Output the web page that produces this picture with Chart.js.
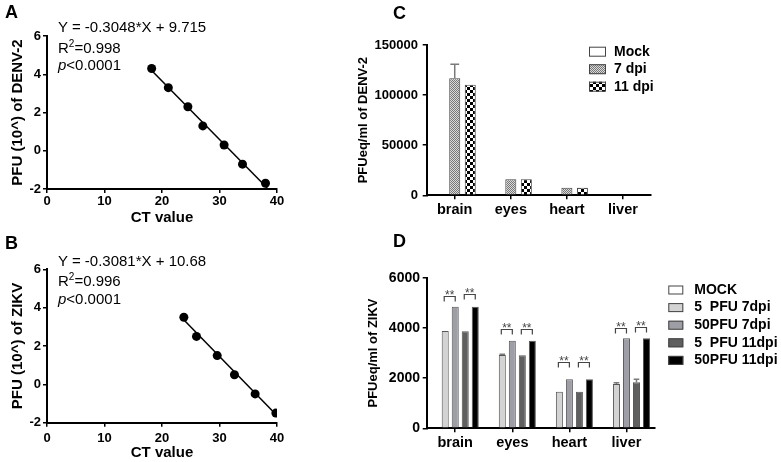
<!DOCTYPE html>
<html>
<head>
<meta charset="utf-8">
<script src="https://cdn.jsdelivr.net/npm/chart.js@4.4.1/dist/chart.umd.min.js"></script>
<style>
  body { margin: 0; background: #fff; }
  #fig { position: relative; width: 781px; height: 462px; overflow: hidden; font-family: "Liberation Sans", Arial, sans-serif; color: #000; }
  canvas { position: absolute; }
  .tag { position: absolute; font-size: 18px; line-height: 18px; font-weight: bold; }
  .eq { position: absolute; left: 58px; font-size: 15px; line-height: 18px; white-space: nowrap; }
  .sup { font-size: 10px; position: relative; top: -6px; }
</style>
</head>
<body>
<div id="fig">
  <canvas id="chartA" width="300" height="228" style="left:0;top:0"></canvas>
  <canvas id="chartB" width="300" height="232" style="left:0;top:230px"></canvas>
  <canvas id="chartC" width="431" height="230" style="left:350px;top:0"></canvas>
  <canvas id="chartD" width="431" height="232" style="left:350px;top:230px"></canvas>

  <div class="tag" style="left:5px;top:3px">A</div>
  <div class="tag" style="left:5px;top:234px">B</div>
  <div class="tag" style="left:393px;top:4px">C</div>
  <div class="tag" style="left:393px;top:232px">D</div>

  <div class="eq" style="top:18px">Y = -0.3048*X + 9.715</div>
  <div class="eq" style="top:39px">R<span class="sup">2</span>=0.998</div>
  <div class="eq" style="top:56px"><i>p</i>&lt;0.0001</div>

  <div class="eq" style="top:252px">Y = -0.3081*X + 10.68</div>
  <div class="eq" style="top:272px">R<span class="sup">2</span>=0.996</div>
  <div class="eq" style="top:290px"><i>p</i>&lt;0.0001</div>
</div>

<script>
// standard curves (CT value vs log PFU)
const ctDenv = [18.2, 21.1, 24.5, 27.1, 30.8, 34.0, 38.0];
const pfuDenv = [4.3, 3.3, 2.3, 1.3, 0.3, -0.7, -1.7];
const fitCtDenv = [18.2, 38.3];
const fitPfuDenv = [4.2, -1.95];

const ctZikv = [23.8, 26.0, 29.6, 32.6, 36.2, 39.8];
const pfuZikv = [3.5, 2.5, 1.5, 0.5, -0.5, -1.5];
const fitCtZikv = [23.7, 39.9];
const fitPfuZikv = [3.4, -1.6];

// organ loads
const organs = ["brain", "eyes", "heart", "liver"];

const denvLabels = ["Mock", "7 dpi", "11 dpi"];
const denvMock = [0, 0, 0, 0];
const denv7dpi = [116800, 16000, 7600, 0];
const denv11dpi = [110300, 16000, 7600, 0];
const denv7dpiErr = [14000, 0, 0, 0];

const zikvLabels = ["MOCK", "5  PFU 7dpi", "50PFU 7dpi", "5  PFU 11dpi", "50PFU 11dpi"];
const zikvMock = [0, 0, 0, 0];
const zikv5pfu7 = [3880, 2920, 1460, 1765];
const zikv50pfu7 = [4845, 3490, 1950, 3585];
const zikv5pfu11 = [3870, 2910, 1460, 1830];
const zikv50pfu11 = [4845, 3490, 1950, 3585];
const zikv5pfu7Err = [0, 30, 0, 50];
const zikv5pfu11Err = [0, 0, 0, 120];
// height of the "**" brackets (5 vs 50 PFU at 7 dpi, then at 11 dpi)
const sig7dpi = [5270, 3970, 2650, 3990];
const sig11dpi = [5340, 3940, 2650, 4050];

Chart.defaults.font.family = '"Liberation Sans", Arial, sans-serif';
Chart.defaults.color = "#000";

const toPoints = (xs, ys) => xs.map((x, i) => ({ x, y: ys[i] }));

function pattern(size, draw) {
  const c = document.createElement("canvas");
  c.width = size; c.height = size;
  const g = c.getContext("2d");
  draw(g);
  return g.createPattern(c, "repeat");
}
const dotted = pattern(2, g => {
  g.fillStyle = "#dadada"; g.fillRect(0, 0, 2, 2);
  g.fillStyle = "#777"; g.fillRect(0, 0, 1, 1); g.fillRect(1, 1, 1, 1);
});
const checker = pattern(6, g => {
  g.fillStyle = "#fff"; g.fillRect(0, 0, 6, 6);
  g.fillStyle = "#000"; g.fillRect(0, 0, 3, 3); g.fillRect(3, 3, 3, 3);
});

const errorBars = {
  id: "errorBars",
  afterDatasetsDraw(chart) {
    const { ctx } = chart;
    const y = chart.scales.y;
    chart.data.datasets.forEach((ds, i) => {
      if (!ds.errors) return;
      chart.getDatasetMeta(i).data.forEach((bar, j) => {
        const e = ds.errors[j];
        if (!e) return;
        const top = y.getPixelForValue(ds.data[j] + e);
        const half = bar.width * 0.4;
        ctx.save();
        ctx.strokeStyle = "#7a7a7a";
        ctx.lineWidth = 1.5;
        ctx.beginPath();
        ctx.moveTo(bar.x, bar.y); ctx.lineTo(bar.x, top);
        ctx.moveTo(bar.x - half, top); ctx.lineTo(bar.x + half, top);
        ctx.stroke();
        ctx.restore();
      });
    });
  }
};

const brackets = {
  id: "brackets",
  afterDatasetsDraw(chart, args, opts) {
    if (!opts.sets) return;
    const { ctx } = chart;
    const y = chart.scales.y;
    ctx.save();
    ctx.strokeStyle = "#444";
    ctx.fillStyle = "#444";
    ctx.lineWidth = 1.2;
    ctx.font = '12px "Liberation Sans", Arial, sans-serif';
    ctx.textAlign = "center";
    ctx.textBaseline = "alphabetic";
    opts.sets.forEach(({ a, b, levels }) => {
      const ma = chart.getDatasetMeta(a).data;
      const mb = chart.getDatasetMeta(b).data;
      levels.forEach((lv, j) => {
        const x1 = ma[j].x - 1, x2 = mb[j].x;
        const py = Math.round(y.getPixelForValue(lv)) + 0.5;
        ctx.beginPath();
        ctx.moveTo(x1, py + 5); ctx.lineTo(x1, py); ctx.lineTo(x2, py); ctx.lineTo(x2, py + 5);
        ctx.stroke();
        ctx.fillText("**", (x1 + x2) / 2, py + 2);
      });
    });
    ctx.restore();
  }
};

const boxLegend = {
  id: "boxLegend",
  afterDraw(chart, args, o) {
    if (!o.x) return;
    const { ctx } = chart;
    ctx.save();
    ctx.font = `bold ${o.size}px "Liberation Sans", Arial, sans-serif`;
    ctx.textBaseline = "middle";
    chart.data.datasets.forEach((ds, i) => {
      const cy = o.y + i * o.dy;
      ctx.fillStyle = ds.backgroundColor;
      ctx.fillRect(o.x, cy - o.h / 2, o.w, o.h);
      ctx.strokeStyle = "#444";
      ctx.lineWidth = 1;
      ctx.strokeRect(o.x + 0.5, cy - o.h / 2 + 0.5, o.w - 1, o.h - 1);
      ctx.fillStyle = "#000";
      ctx.fillText(ds.label, o.textX, cy);
    });
    ctx.restore();
  }
};

const axisGrid = { drawOnChartArea: false, tickLength: 4, color: "#000", lineWidth: 1.5 };
const axisBorder = { color: "#000", width: 2 };
const plain = v => String(v);

function curveChart(id, pts, fit, yTitle, g) {
  return new Chart(document.getElementById(id), {
    type: "scatter",
    data: {
      datasets: [
        { data: pts, backgroundColor: "#000", borderWidth: 0, pointRadius: 4.5 },
        { data: fit, showLine: true, borderColor: "#000", borderWidth: 1.5, pointRadius: 0 }
      ]
    },
    options: {
      responsive: false,
      animation: false,
      layout: { padding: { top: g.top, right: g.right, left: 0, bottom: 0 } },
      plugins: { legend: { display: false }, tooltip: { enabled: false } },
      scales: {
        x: {
          type: "linear", min: 0, max: 40,
          afterFit: s => { s.height = g.xh; },
          ticks: { stepSize: 10, padding: g.xpad, font: { size: 13, weight: "bold" } },
          grid: axisGrid, border: axisBorder,
          title: { display: true, text: "CT value", font: { size: 15, weight: "bold" }, padding: { top: 0, bottom: g.tpad } }
        },
        y: {
          min: -2, max: 6,
          afterFit: s => { s.width = 47; },
          ticks: { stepSize: 2, padding: 2, font: { size: 13, weight: "bold" } },
          grid: axisGrid, border: axisBorder,
          title: { display: true, text: yTitle, font: { size: 15, weight: "bold" }, padding: { top: 9, bottom: 0 } }
        }
      }
    }
  });
}

curveChart("chartA", toPoints(ctDenv, pfuDenv), toPoints(fitCtDenv, fitPfuDenv),
  "PFU (10^) of DENV-2", { top: 36, right: 23, xh: 39, xpad: 1, tpad: 1 });
curveChart("chartB", toPoints(ctZikv, pfuZikv), toPoints(fitCtZikv, fitPfuZikv),
  "PFU (10^) of ZIKV", { top: 39.3, right: 23, xh: 39.3, xpad: 3.5, tpad: 0 });

function barScales(g) {
  return {
    x: {
      afterFit: s => { s.height = g.xh; },
      ticks: { padding: g.xpad, font: { size: 14.5, weight: "bold" } },
      grid: { ...axisGrid, offset: false }, border: axisBorder
    },
    y: {
      min: 0, max: g.max,
      afterFit: s => { s.width = 76.7; },
      ticks: { stepSize: g.step, padding: g.ypad, callback: plain, font: { size: g.tickSize, weight: "bold" } },
      grid: axisGrid, border: axisBorder,
      title: { display: true, text: g.title, font: { size: 13, weight: "bold" }, padding: { top: g.tpad, bottom: 0 } }
    }
  };
}

new Chart(document.getElementById("chartC"), {
  type: "bar",
  data: {
    labels: organs,
    datasets: [
      { label: denvLabels[0], data: denvMock, backgroundColor: "#fff" },
      { label: denvLabels[1], data: denv7dpi, backgroundColor: dotted, errors: denv7dpiErr },
      { label: denvLabels[2], data: denv11dpi, backgroundColor: checker }
    ]
  },
  options: {
    responsive: false,
    animation: false,
    datasets: { bar: { categoryPercentage: 0.83, barPercentage: 0.71, borderColor: "#444", borderWidth: 1 } },
    layout: { padding: { top: 45, right: 130, left: 0, bottom: 0 } },
    plugins: {
      legend: { display: false }, tooltip: { enabled: false },
      boxLegend: { x: 239, y: 51.7, dy: 17.5, w: 17, h: 10, textX: 264, size: 14 }
    },
    scales: barScales({ xh: 34.7, xpad: 2, max: 150000, step: 50000, ypad: 4.7, tickSize: 13, title: "PFUeq/ml of DENV-2", tpad: 5.2 })
  },
  plugins: [errorBars, boxLegend]
});

new Chart(document.getElementById("chartD"), {
  type: "bar",
  data: {
    labels: organs,
    datasets: [
      { label: zikvLabels[0], data: zikvMock, backgroundColor: "#fff" },
      { label: zikvLabels[1], data: zikv5pfu7, backgroundColor: "#d3d3d3", errors: zikv5pfu7Err },
      { label: zikvLabels[2], data: zikv50pfu7, backgroundColor: "#9e9ea6" },
      { label: zikvLabels[3], data: zikv5pfu11, backgroundColor: "#5f5f5f", errors: zikv5pfu11Err },
      { label: zikvLabels[4], data: zikv50pfu11, backgroundColor: "#000" }
    ]
  },
  options: {
    responsive: false,
    animation: false,
    datasets: { bar: { categoryPercentage: 0.877, barPercentage: 0.7, borderColor: "#555", borderWidth: 1 } },
    layout: { padding: { top: 47.7, right: 126, left: 0, bottom: 0 } },
    plugins: {
      legend: { display: false }, tooltip: { enabled: false },
      boxLegend: { x: 318.3, y: 60, dy: 17.6, w: 15, h: 9, textX: 344.3, size: 14 },
      brackets: { sets: [ { a: 1, b: 2, levels: sig7dpi }, { a: 3, b: 4, levels: sig11dpi } ] }
    },
    scales: barScales({ xh: 33.7, xpad: 1.7, max: 6000, step: 2000, ypad: 2.7, tickSize: 14, title: "PFUeq/ml of ZIKV", tpad: 15.2 })
  },
  plugins: [errorBars, brackets, boxLegend]
});
</script>
</body>
</html>
